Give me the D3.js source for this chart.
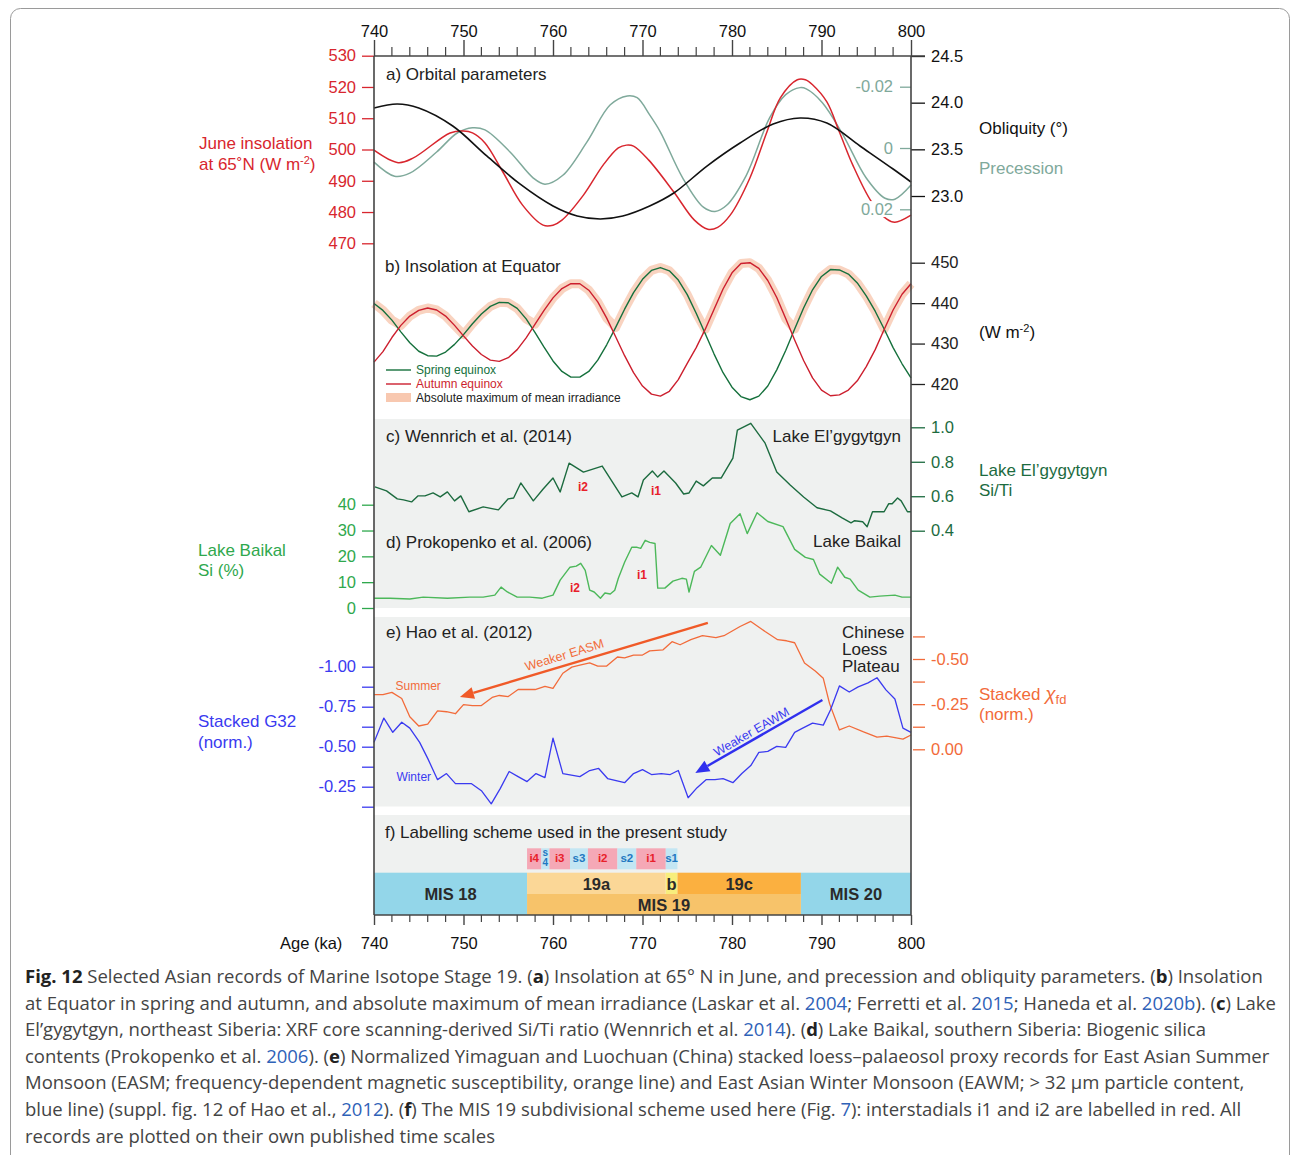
<!DOCTYPE html>
<html>
<head>
<meta charset="utf-8">
<script src="https://cdn.jsdelivr.net/npm/d3@7"></script>
<style>
body { margin: 0; background: #fff; }
svg text { font-family: "Liberation Sans", Arial, sans-serif; }
.cap { font-family: "Open Sans", sans-serif !important; fill: #444; white-space: pre; }
</style>
</head>
<body>
<div id="app"></div>
<script>
// ---------- data ----------
// a) orbital parameters
var insAge = [740,742.7,744.4,748.5,750,751,752.4,754.4,756.6,758.9,760,761,763.4,765.6,767.3,768.2,769,770.7,773.5,775.8,777.3,778.4,779.8,782,783.9,785.4,787.3,788.2,789,790.6,792,793.5,795.6,797.3,798.2,800];
var insVal = [499.8,495.8,497.3,505.3,505.9,505.3,502.1,492.8,482.2,475.8,475.8,477.4,485.4,495.0,500.5,501.4,501.1,496.6,486.4,477.4,474.5,475.1,479.0,490.9,505.6,516.5,522.3,522.3,520.7,515.2,505.6,495.0,483.2,477.7,476.7,479.0];
var precAge = [740,742.3,744,747,749.3,751,752.4,755.2,757.8,759.1,761.1,763.8,766.4,768.3,769.4,770.8,772,774.5,776.8,778.1,779.4,781.6,784.2,786,787.6,788.3,790.1,792.4,795,797.1,798.2,800];
var precVal = [0.0046,0.0092,0.0082,0.0013,-0.0049,-0.0066,-0.0059,0.0013,0.0098,0.0118,0.0089,-0.0020,-0.0141,-0.0170,-0.0164,-0.0108,-0.0052,0.0098,0.0193,0.0207,0.0187,0.0089,-0.0098,-0.0174,-0.0197,-0.0193,-0.0148,-0.0043,0.0098,0.0164,0.0167,0.0121];
var oblAge = [740,742.6,745,748.8,752.6,756.3,760,762.7,765.3,767.8,770.8,773.5,777.2,780.9,784.6,787.6,790.6,794.3,798,800];
var oblVal = [23.943,23.986,23.943,23.750,23.429,23.129,22.893,22.786,22.754,22.786,22.893,23.032,23.321,23.568,23.771,23.836,23.782,23.536,23.289,23.150];

// b) insolation at equator (W m-2)
var eqAge = [740,741,742,743,744,745,746,747,748,749,750,751,752,753,754,755,756,757,758,759,760,761,762,763,764,765,766,767,768,769,770,771,772,773,774,775,776,777,778,779,780,781,782,783,784,785,786,787,788,789,790,791,792,793,794,795,796,797,798,799,800];
var spring = [439.9,438.2,435.8,432.9,430.2,428.1,427.0,426.9,427.9,429.8,
  432.2,434.9,437.3,439.2,440.2,440.1,438.7,436.1,432.7,429.1,
  425.7,423.1,421.7,421.7,423.1,425.9,429.7,434.0,438.5,442.6,
  445.9,448.1,448.8,448.0,445.7,442.1,437.5,432.5,427.4,422.8,
  419.2,416.9,416.1,417.0,419.5,423.5,428.3,433.6,438.8,443.3,
  446.6,448.3,448.2,447.2,445.0,441.8,438.0,433.6,429.0,425.0,421.5];
var autumn = [425.4,428.0,431.5,434.5,436.8,438.2,438.8,438.3,436.8,434.5,
  431.9,429.4,427.3,425.9,425.6,426.5,428.5,431.4,434.8,438.2,
  441.3,443.6,444.8,444.8,443.2,440.3,436.3,431.7,427.0,422.8,
  419.5,417.5,417.0,418.2,421.1,425.1,429.0,433.5,438.5,443.5,
  447.5,449.8,450.0,448.6,445.6,441.4,436.2,430.9,425.8,421.5,
  418.5,417.1,417.3,418.5,420.8,424.3,428.5,433.5,438.3,442.2,444.8];

// c) Lake El'gygytgyn Si/Ti
var elgAge = [740.1,741.4,742.6,743.3,744.2,744.9,745.7,746.6,747.4,748.2,749,749.7,750.6,752.2,753.9,755,755.6,756.4,757.8,758.9,760,760.8,761.8,763.4,765.5,767.7,768.8,769.5,770.1,771.1,771.7,772.4,773.7,774.6,775.2,776,776.8,777.8,778.8,780.1,780.6,782.1,783.7,785,786.5,788,789.5,791,792.3,793.3,793.7,794.6,795.1,795.7,796.5,797,797.5,797.9,798.5,798.9,799.6,800];
var elgVal = [0.654,0.631,0.585,0.579,0.567,0.602,0.602,0.619,0.596,0.625,0.573,0.602,0.510,0.538,0.521,0.585,0.590,0.677,0.573,0.642,0.706,0.625,0.792,0.740,0.775,0.596,0.619,0.596,0.694,0.746,0.711,0.746,0.677,0.613,0.619,0.688,0.660,0.706,0.706,0.821,0.983,1.023,0.908,0.740,0.665,0.596,0.533,0.515,0.475,0.446,0.458,0.452,0.423,0.510,0.510,0.510,0.556,0.556,0.590,0.573,0.510,0.510];

// d) Lake Baikal Si (%)
var baiAge = [740,741.8,744,745.5,748.2,750.7,752.2,753.5,754.2,754.9,756,757.4,758.8,760,760.8,761.9,762.6,763.1,763.6,764.1,764.6,765.3,765.8,766.4,766.9,767.3,768,768.8,769.4,769.8,770.3,770.8,771.4,771.7,772.5,773.4,774.4,774.9,775.2,775.8,776.5,777.7,778.7,779.8,780.9,781.7,782.8,784,785.7,787,788.2,789.1,789.8,791.1,791.8,792.6,793.2,794.1,795.4,796.5,798.2,799,800];
var baiVal = [3.8,3.8,3.5,4.2,3.8,4.2,4.2,5.0,8.1,6.2,4.2,4.2,3.8,5.0,10.8,15.8,16.2,17.3,14.6,6.9,6.2,3.8,5.8,5.4,6.9,11.5,17.7,23.5,23.5,23.1,26.2,25.4,25.0,7.7,7.7,10.4,11.5,11.2,6.2,14.2,15.8,24.2,20.4,32.7,36.5,28.8,36.9,33.5,31.5,22.7,19.6,18.8,13.1,9.6,15.8,11.9,11.2,6.9,4.2,4.6,5.0,4.2,4.2];

// e) Chinese Loess Plateau, summer (stacked Xfd) and winter (stacked G32)
var sumAge = [740,741,742,743.1,744,745,746,747.1,748.1,749.1,750,751,752,753.2,754,755,756.1,757.1,758,759.1,760,761.1,762.1,763,764.1,765,766,767.2,768,769,770,770.8,772.3,773.3,774.2,775.4,776.7,778.2,779.1,780.9,782.1,783.7,785.1,786.1,787,788.1,789.3,790.2,790.9,792,793.1,794.7,796.2,797.3,799.1,800];
var sumVal = [-0.303,-0.303,-0.315,-0.281,-0.180,-0.129,-0.140,-0.213,-0.208,-0.197,-0.247,-0.242,-0.242,-0.287,-0.298,-0.292,-0.331,-0.331,-0.331,-0.348,-0.337,-0.421,-0.455,-0.466,-0.478,-0.461,-0.461,-0.511,-0.506,-0.522,-0.522,-0.545,-0.551,-0.596,-0.579,-0.607,-0.629,-0.618,-0.629,-0.680,-0.708,-0.652,-0.607,-0.601,-0.590,-0.478,-0.433,-0.393,-0.253,-0.107,-0.129,-0.096,-0.067,-0.073,-0.056,-0.079];
var winAge = [740,741.1,742.1,743.1,744,745.1,746,747.1,748.1,749.1,750.9,752,753.1,754.1,755.1,756.1,757.1,758.1,759.1,760,761.1,763,764.1,765.1,766.1,768,769,770,771,772.1,773.1,774,775.1,776.1,777.1,778.1,779,780.1,781.1,782.1,783,784,785,786,787,787.9,789,790.2,791,792,793.1,794.1,795.2,796.2,797.2,798.2,799.1,800];
var winVal = [-0.527,-0.679,-0.590,-0.653,-0.616,-0.527,-0.427,-0.294,-0.332,-0.269,-0.269,-0.225,-0.143,-0.238,-0.345,-0.313,-0.282,-0.332,-0.307,-0.553,-0.332,-0.313,-0.351,-0.364,-0.301,-0.275,-0.332,-0.357,-0.326,-0.332,-0.326,-0.351,-0.181,-0.244,-0.294,-0.294,-0.301,-0.275,-0.332,-0.382,-0.464,-0.471,-0.502,-0.496,-0.590,-0.616,-0.647,-0.635,-0.729,-0.880,-0.842,-0.874,-0.899,-0.931,-0.855,-0.798,-0.616,-0.590];

// f) labelling scheme (ka)
var unitNames = ['MIS 18','19a','b','19c','MIS 20'];
var unitFrom  = [740, 757.1, 772.6, 773.9, 787.7];
var unitTo    = [757.1, 772.6, 773.9, 787.7, 800];
var mis19 = [757.1, 787.7];
var subNames = ['i4','s4','i3','s3','i2','s2','i1','s1'];
var subFrom  = [757.1, 758.7, 759.6, 761.9, 763.9, 767.2, 769.3, 772.6];
var subTo    = [758.7, 759.6, 761.9, 763.9, 767.2, 769.3, 772.6, 773.9];

// tick values
var ageTicks = [740,750,760,770,780,790,800];
var insTicks = [470,480,490,500,510,520,530];
var oblTicks = [23.0,23.5,24.0,24.5];
var precTicks = [-0.02,0,0.02];
var eqTicks = [420,430,440,450];
var elgTicks = [0.4,0.6,0.8,1.0];
var baiTicks = [0,10,20,30,40];
var g32Ticks = [-1,-0.875,-0.75,-0.625,-0.5,-0.375,-0.25,-0.125];
var xfdTicks = [-0.625,-0.5,-0.375,-0.25,-0.125,0];

// ---------- layout ----------
var W = 1292, H = 1155;
var L = 374, R = 911, TOP = 56, BOT = 915;
var cRed = '#d8262e', cPrec = '#7fa99b', cGreenD = '#1c6b3f', cGreen = '#2fa84d', cGreenL = '#4cb85a',
    cBlue = '#3a3af0', cOrange = '#f26b3a', cText = '#222';

var svg = d3.select('#app').append('svg').attr('width', W).attr('height', H);

var x = d3.scaleLinear().domain([740, 800]).range([L, R]);
var yIns  = d3.scaleLinear().domain([470, 530]).range([243.3, 55.7]);
var yObl  = d3.scaleLinear().domain([23, 24.5]).range([196, 56]);
var yPrec = d3.scaleLinear().domain([-0.02, 0.02]).range([86.7, 209.3]);
var yEq   = d3.scaleLinear().domain([420, 450]).range([384, 262.7]);
var yElg  = d3.scaleLinear().domain([0.4, 1.0]).range([530.7, 427.3]);
var yBai  = d3.scaleLinear().domain([0, 40]).range([608, 504.7]);
var yG32  = d3.scaleLinear().domain([-1, -0.25]).range([666.7, 786.7]);
var yXfd  = d3.scaleLinear().domain([-0.5, 0]).range([659, 749.3]);

// frame
svg.append('rect').attr('x', 10.5).attr('y', 8.5).attr('width', 1279).attr('height', 1170)
   .attr('rx', 10).attr('fill', 'none').attr('stroke', '#9a9a9a').attr('stroke-width', 1);

// panel backgrounds
[[419, 608], [617, 806.5], [815, 873]].forEach(function (p) {
  svg.append('rect').attr('x', L).attr('y', p[0]).attr('width', R - L).attr('height', p[1] - p[0]).attr('fill', '#eff1f0');
});

function drawLine(ages, vals, yScale, color, w, curve) {
  var line = d3.line()
      .x(function (d, i) { return x(ages[i]); })
      .y(function (d) { return yScale(d); })
      .curve(curve || d3.curveLinear);
  return svg.append('path').datum(vals).attr('d', line)
      .attr('fill', 'none').attr('stroke', color).attr('stroke-width', w).attr('stroke-linejoin', 'round');
}

function label(xp, yp, s, color, size, anchor, weight) {
  return svg.append('text').attr('x', xp).attr('y', yp).text(s)
      .attr('fill', color || cText).attr('font-size', size || 17)
      .attr('text-anchor', anchor || 'start').attr('font-weight', weight || null);
}

// ---------- a) orbital ----------
drawLine(precAge, precVal, yPrec, cPrec, 1.5, d3.curveCatmullRom);
drawLine(insAge, insVal, yIns, cRed, 1.5, d3.curveCatmullRom);
drawLine(oblAge, oblVal, yObl, '#111', 1.6, d3.curveCatmullRom);

// ---------- b) equator ----------
var eqMax = spring.map(function (s, i) { return Math.max(s, autumn[i]); });
drawLine(eqAge, eqMax, yEq, '#f8c8b0', 9).attr('stroke-opacity', 0.8);
drawLine(eqAge, spring, yEq, '#15703c', 1.4);
drawLine(eqAge, autumn, yEq, '#cc1f2e', 1.4);

// legend b
svg.append('line').attr('x1', 386).attr('x2', 411).attr('y1', 370).attr('y2', 370).attr('stroke', '#15703c').attr('stroke-width', 1.4);
svg.append('line').attr('x1', 386).attr('x2', 411).attr('y1', 384).attr('y2', 384).attr('stroke', '#cc1f2e').attr('stroke-width', 1.4);
svg.append('rect').attr('x', 386).attr('y', 393).attr('width', 25).attr('height', 9).attr('fill', '#f8c8b0');
label(416, 374, 'Spring equinox', '#15703c', 12);
label(416, 388, 'Autumn equinox', '#cc1f2e', 12);
label(416, 402, 'Absolute maximum of mean irradiance', cText, 12);

// ---------- c) & d) ----------
drawLine(elgAge, elgVal, yElg, cGreenD, 1.4);
drawLine(baiAge, baiVal, yBai, cGreenL, 1.4);

// ---------- e) ----------
drawLine(sumAge, sumVal, yXfd, cOrange, 1.3);
drawLine(winAge, winVal, yG32, cBlue, 1.3);

function arrow(from, to, ys, color) {
  var x1 = x(from[0]), y1 = ys(from[1]), x2 = x(to[0]), y2 = ys(to[1]);
  var dx = x2 - x1, dy = y2 - y1, len = Math.sqrt(dx * dx + dy * dy);
  var ux = dx / len, uy = dy / len, hl = 14, hw = 6;
  var bx = x2 - ux * hl, by = y2 - uy * hl;
  svg.append('line').attr('x1', x1).attr('y1', y1).attr('x2', bx).attr('y2', by)
     .attr('stroke', color).attr('stroke-width', 2.4);
  svg.append('path').attr('fill', color)
     .attr('d', 'M' + x2 + ',' + y2 + 'L' + (bx - uy * hw) + ',' + (by + ux * hw) + 'L' + (bx + uy * hw) + ',' + (by - ux * hw) + 'Z');
}
arrow([777.3, -0.70], [749.6, -0.29], yXfd, '#f05a28');
arrow([790.1, -0.792], [775.9, -0.336], yG32, '#3030ee');
svg.append('text').attr('transform', 'translate(' + x(761.4) + ',' + yXfd(-0.50) + ') rotate(-17)')
   .attr('text-anchor', 'middle').attr('fill', cOrange).attr('font-size', 12.5).text('Weaker EASM');
svg.append('text').attr('transform', 'translate(' + x(782.4) + ',' + yG32(-0.57) + ') rotate(-30)')
   .attr('text-anchor', 'middle').attr('fill', cBlue).attr('font-size', 12.5).text('Weaker EAWM');
label(x(742.4), yXfd(-0.33), 'Summer', cOrange, 12);
label(x(742.5), yG32(-0.285), 'Winter', cBlue, 12);

// ---------- f) labelling scheme ----------
var rowTop = 872.7, rowMid = 894, rowBot = 915;
var unitFill = ['#93d6e9', '#fbd797', '#f8ee7c', '#fbb040', '#93d6e9'];
unitNames.forEach(function (n, i) {
  var full = (n.indexOf('MIS') === 0);
  var y0 = rowTop, y1 = full ? rowBot : rowMid;
  svg.append('rect').attr('x', x(unitFrom[i])).attr('y', y0).attr('width', x(unitTo[i]) - x(unitFrom[i]))
     .attr('height', y1 - y0).attr('fill', unitFill[i]);
  label((x(unitFrom[i]) + x(unitTo[i])) / 2, full ? 900 : 890, n, '#2a2a2a', 16.5, 'middle', 'bold');
});
svg.append('rect').attr('x', x(mis19[0])).attr('y', rowMid).attr('width', x(mis19[1]) - x(mis19[0]))
   .attr('height', rowBot - rowMid).attr('fill', '#f7c36a');
label((x(mis19[0]) + x(mis19[1])) / 2, 911, 'MIS 19', '#2a2a2a', 16.5, 'middle', 'bold');

subNames.forEach(function (n, i) {
  var inter = n[0] === 'i';
  var cx = (x(subFrom[i]) + x(subTo[i])) / 2;
  svg.append('rect').attr('x', x(subFrom[i])).attr('y', 848.3).attr('width', x(subTo[i]) - x(subFrom[i]))
     .attr('height', 21).attr('fill', inter ? '#f5a8b6' : '#c3e6f3');
  var col = inter ? '#e8202a' : '#1f78c1';
  if (n === 's4') {
    label(cx, 855.5, 's', col, 10, 'middle', 'bold');
    label(cx, 866, '4', col, 10, 'middle', 'bold');
  } else {
    label(cx, 862, n, col, 11.5, 'middle', 'bold');
  }
});

// ---------- axes ----------
function yAxis(scale, xPos, side, values, color, size, pad, fmt) {
  var ax = (side === 'left' ? d3.axisLeft(scale) : d3.axisRight(scale))
      .tickValues(values).tickSize(size).tickPadding(pad).tickFormat(fmt);
  var g = svg.append('g').attr('transform', 'translate(' + xPos + ',0)').call(ax);
  g.select('.domain').remove();
  g.attr('font-family', '"Liberation Sans", Arial, sans-serif').attr('font-size', 16.5);
  g.selectAll('line').attr('stroke', color).attr('stroke-width', 1.3);
  g.selectAll('text').attr('fill', color);
  return g;
}
function fix(n) { return function (d) { return d.toFixed(n); }; }
function every(n, step) {
  return function (d) { return Math.abs(Math.round(d / step) * step - d) < 1e-9 ? d.toFixed(n) : ''; };
}

yAxis(yIns, L, 'left', insTicks, cRed, 12, 6, fix(0));
yAxis(yObl, R, 'right', oblTicks, '#111', 14, 6, fix(1));
var pg = yAxis(yPrec, R, 'left', precTicks, cPrec, 11, 7, function (d) { return d === 0 ? '0' : d.toFixed(2); });
pg.selectAll('.tick').each(function () {
  var t = d3.select(this).select('text'), bb = t.node().getBBox();
  d3.select(this).insert('rect', 'text').attr('x', bb.x - 2).attr('y', bb.y + 1).attr('width', bb.width + 4)
    .attr('height', bb.height - 2).attr('fill', '#fff');
});
yAxis(yEq, R, 'right', eqTicks, '#222', 14, 6, fix(0));
yAxis(yElg, R, 'right', elgTicks, cGreenD, 14, 6, fix(1));
yAxis(yBai, L, 'left', baiTicks, cGreen, 12, 6, fix(0));
yAxis(yG32, L, 'left', g32Ticks, cBlue, 12, 6, every(2, 0.25));
yAxis(yXfd, R + 2, 'right', xfdTicks, cOrange, 12, 6, every(2, 0.25));

// frame lines
var axc = '#444';
svg.append('line').attr('x1', L).attr('x2', 925).attr('y1', TOP).attr('y2', TOP).attr('stroke', axc).attr('stroke-width', 1.6);
svg.append('line').attr('x1', L).attr('x2', R).attr('y1', BOT).attr('y2', BOT).attr('stroke', axc).attr('stroke-width', 1.6);
svg.append('line').attr('x1', L).attr('x2', L).attr('y1', TOP).attr('y2', BOT).attr('stroke', axc).attr('stroke-width', 1.6);
svg.append('line').attr('x1', R).attr('x2', R).attr('y1', TOP).attr('y2', BOT).attr('stroke', axc).attr('stroke-width', 1.6);

var topAx = d3.axisTop(x).tickValues(ageTicks).tickSize(16).tickSizeOuter(0).tickPadding(3).tickFormat(fix(0));
var gt = svg.append('g').attr('transform', 'translate(0,' + TOP + ')').call(topAx);
var botAx = d3.axisBottom(x).tickValues(ageTicks).tickSize(10).tickSizeOuter(0).tickPadding(12).tickFormat(fix(0));
var gb = svg.append('g').attr('transform', 'translate(0,' + BOT + ')').call(botAx);
[gt, gb].forEach(function (g) {
  g.select('.domain').remove();
  g.attr('font-family', '"Liberation Sans", Arial, sans-serif').attr('font-size', 16.5);
  g.selectAll('line').attr('stroke', axc).attr('stroke-width', 1.4);
  g.selectAll('text').attr('fill', '#111');
});
var minor = d3.range(742, 800, 2).filter(function (d) { return d % 10 !== 0; });
svg.selectAll('.mt').data(minor).enter().append('line')
   .attr('x1', x).attr('x2', x).attr('y1', TOP - 9).attr('y2', TOP).attr('stroke', axc).attr('stroke-width', 1.2);
svg.selectAll('.mb').data(minor).enter().append('line')
   .attr('x1', x).attr('x2', x).attr('y1', BOT).attr('y2', BOT + 7).attr('stroke', axc).attr('stroke-width', 1.2);
label(280, 949, 'Age (ka)', '#111', 16.5);

// ---------- panel titles & labels ----------
label(386, 80, 'a) Orbital parameters');
label(385, 272, 'b) Insolation at Equator');
label(386, 442, 'c) Wennrich et al. (2014)');
label(901, 442, 'Lake El\u2019gygytgyn', cText, 17, 'end');
label(386, 548, 'd) Prokopenko et al. (2006)');
label(901, 547, 'Lake Baikal', cText, 17, 'end');
label(386, 638, 'e) Hao et al. (2012)');
label(842, 638, 'Chinese');
label(842, 655, 'Loess');
label(842, 672, 'Plateau');
label(385, 838, 'f) Labelling scheme used in the present study');

label(x(763.35), yElg(0.654) + 4, 'i2', '#e8202a', 12, 'middle', 'bold');
label(x(771.5), yElg(0.630) + 4, 'i1', '#e8202a', 12, 'middle', 'bold');
label(x(762.45), yBai(7.7) + 4, 'i2', '#e8202a', 12, 'middle', 'bold');
label(x(769.95), yBai(12.8) + 4, 'i1', '#e8202a', 12, 'middle', 'bold');

// axis titles left
label(199, 149, 'June insolation', cRed);
var t1 = label(199, 170, 'at 65\u02DAN (W m', cRed);
t1.append('tspan').attr('font-size', 11).attr('dy', -6).text('-2');
t1.append('tspan').attr('dy', 6).text(')');
label(198, 556, 'Lake Baikal', cGreen);
label(198, 576, 'Si (%)', cGreen);
label(198, 727, 'Stacked G32', cBlue);
label(198, 748, '(norm.)', cBlue);

// axis titles right
label(979, 134, 'Obliquity (\u00B0)', '#111');
label(979, 174, 'Precession', cPrec);
var t2 = label(979, 338, '(W m', '#111');
t2.append('tspan').attr('font-size', 11).attr('dy', -6).text('-2');
t2.append('tspan').attr('dy', 6).text(')');
label(979, 476, 'Lake El\u2019gygytgyn', cGreenD);
label(979, 496, 'Si/Ti', cGreenD);
var t3 = label(979, 700, 'Stacked ', cOrange);
t3.append('tspan').attr('font-style', 'italic').attr('font-size', 19).text('\u03C7');
t3.append('tspan').attr('font-size', 13).attr('dy', 4).text('fd');
label(979, 720, '(norm.)', cOrange);

// ---------- caption (left aligned, ragged right) ----------
var captionLines = [
  [['b', 'Fig. 12'], ['n', ' Selected Asian records of Marine Isotope Stage 19. ('], ['b', 'a'], ['n', ') Insolation at 65\u00B0 N in June, and precession and obliquity parameters. ('], ['b', 'b'], ['n', ') Insolation']],
  [['n', 'at Equator in spring and autumn, and absolute maximum of mean irradiance (Laskar et al. '], ['l', '2004'], ['n', '; Ferretti et al. '], ['l', '2015'], ['n', '; Haneda et al. '], ['l', '2020b'], ['n', '). ('], ['b', 'c'], ['n', ') Lake']],
  [['n', 'El\u2019gygytgyn, northeast Siberia: XRF core scanning-derived Si/Ti ratio (Wennrich et al. '], ['l', '2014'], ['n', '). ('], ['b', 'd'], ['n', ') Lake Baikal, southern Siberia: Biogenic silica']],
  [['n', 'contents (Prokopenko et al. '], ['l', '2006'], ['n', '). ('], ['b', 'e'], ['n', ') Normalized Yimaguan and Luochuan (China) stacked loess\u2013palaeosol proxy records for East Asian Summer']],
  [['n', 'Monsoon (EASM; frequency-dependent magnetic susceptibility, orange line) and East Asian Winter Monsoon (EAWM; > 32 \u03BCm particle content,']],
  [['n', 'blue line) (suppl. fig. 12 of Hao et al., '], ['l', '2012'], ['n', '). ('], ['b', 'f'], ['n', ') The MIS 19 subdivisional scheme used here (Fig. '], ['l', '7'], ['n', '): interstadials i1 and i2 are labelled in red. All']],
  [['n', 'records are plotted on their own published time scales']]
];
// widths of the caption lines in the figure, used to size the font
var capWidths = [1246, 1245, 1177, 1240, 1225, 1221, 472];
var capTexts = captionLines.map(function (segs, i) {
  var t = svg.append('text').attr('class', 'cap').attr('x', 25).attr('y', 983 + i * 26.6).attr('font-size', 18.5);
  segs.forEach(function (s) {
    var sp = t.append('tspan').text(s[1]);
    if (s[0] === 'b') sp.attr('font-weight', 700).attr('fill', '#222');
    if (s[0] === 'l') sp.attr('fill', '#2f62b8');
  });
  return t;
});
var measured = d3.sum(capTexts, function (t) { return t.node().getComputedTextLength(); });
var capSize = 18.5 * d3.sum(capWidths) / measured;
capTexts.forEach(function (t) { t.attr('font-size', capSize); });
</script>
</body>
</html>
